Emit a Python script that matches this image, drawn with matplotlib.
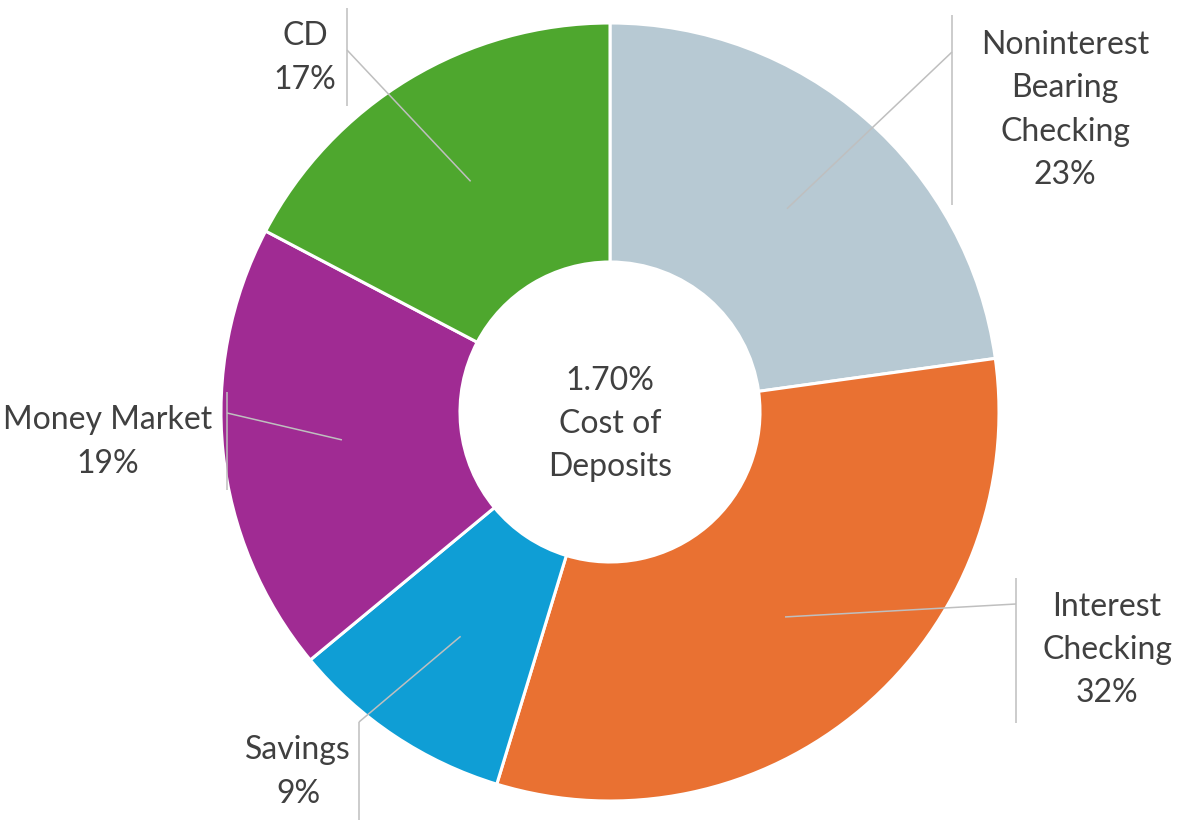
import matplotlib
matplotlib.use("Agg")
import matplotlib.pyplot as plt
import numpy as np

# ---- data ----
categories = ["Noninterest\nBearing\nChecking", "Interest\nChecking", "Savings", "Money Market", "CD"]
shares = [22.8, 31.9, 9.3, 18.7, 17.3]
colors = ["#B7C9D3", "#E97132", "#0F9ED5", "#A02B93", "#4EA72E"]
center_text = "1.70%\nCost of\nDeposits"

W, H = 1181, 822
fig = plt.figure(figsize=(W / 100, H / 100), dpi=100)
ax = fig.add_axes([0, 0, 1, 1])

def Y(y):
    return H - y

cx, cy = 610, Y(412)
R_out, R_in = 389, 150
wedges, _ = ax.pie(shares, colors=colors, startangle=90, counterclock=False,
                   radius=R_out, center=(cx, cy),
                   wedgeprops=dict(width=R_out - R_in, edgecolor="white", linewidth=2.2))
ax.set_xlim(0, W)
ax.set_ylim(0, H)
ax.set_aspect("equal")
ax.axis("off")

FONT = "Lato"
TXT = "#404040"
LINE = "#BFBFBF"
fs = 23
LS = 1.55

# label layout: (elbow point, vertical bar span, text position)
layout = [
    dict(elbow=(952, 52), bar=(15, 205), text=(1065, 110)),
    dict(elbow=(1016, 604), bar=(578, 723), text=(1107, 650)),
    dict(elbow=(359, 722), bar=(722, 820), text=(298, 772)),
    dict(elbow=(227, 413), bar=(392, 490), text=(108, 442)),
    dict(elbow=(347, 50), bar=(8, 106), text=(305, 58)),
]

total = sum(shares)
for w, cat, val, lay in zip(wedges, categories, shares, layout):
    mid = np.deg2rad((w.theta1 + w.theta2) / 2)
    r_mid = (R_out + R_in) / 2
    ax_, ay_ = cx + r_mid * np.cos(mid), cy + r_mid * np.sin(mid)
    ex, ey = lay["elbow"]
    ax.plot([ax_, ex], [ay_, Y(ey)], color=LINE, lw=1.1, solid_capstyle="butt")
    b0, b1 = lay["bar"]
    ax.plot([ex, ex], [Y(b0), Y(b1)], color=LINE, lw=1.1, solid_capstyle="butt")
    tx, ty = lay["text"]
    ax.text(tx, Y(ty), f"{cat}\n{round(val / total * 100):.0f}%", ha="center", va="center",
            fontsize=fs, color=TXT, family=FONT, linespacing=LS)

ax.text(cx, Y(424), center_text, ha="center", va="center", fontsize=fs,
        color=TXT, family=FONT, linespacing=LS)

fig.savefig("out.png", dpi=100, facecolor="white")
